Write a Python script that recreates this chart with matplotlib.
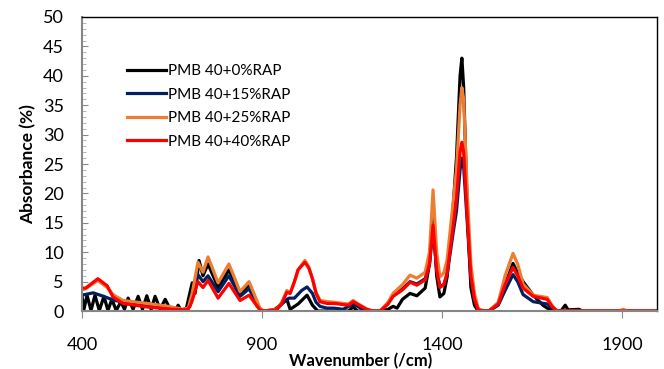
import matplotlib
matplotlib.use('Agg')
import matplotlib.pyplot as plt
from matplotlib.ticker import MultipleLocator

etiquetas = ['PMB 40+0%RAP', 'PMB 40+15%RAP', 'PMB 40+25%RAP', 'PMB 40+40%RAP']
colores = ['#000000', '#002060', '#ED7D31', '#FF0000']
ticks_x = [400, 900, 1400, 1900]

wn_0 = [400, 405, 414, 425, 436, 448, 461, 472, 483, 495, 508, 518, 528, 542, 556, 568,
        580, 592, 603, 617, 631, 645, 660, 667, 675, 690, 706, 714, 725, 736, 750, 778,
        808, 839, 864, 885, 900, 930, 950, 969, 978, 1000, 1025, 1040, 1055, 1140, 1153,
        1165, 1228, 1250, 1264, 1275, 1290, 1311, 1330, 1353, 1365, 1375, 1385, 1394,
        1405, 1414, 1430, 1440, 1450, 1455, 1460, 1470, 1480, 1490, 1500, 1530, 1556,
        1575, 1597, 1610, 1625, 1653, 1680, 1692, 1710, 1730, 1742, 1750, 1780, 1790,
        1800, 1997]
abs_0 = [2.5, 0.2, 2.7, 0.1, 2.7, 0.1, 2.5, 0.1, 2.0, 0.1, 1.6, 0.3, 2.2, 0.3, 2.5, 0.3,
         2.6, 0.3, 2.5, 0.3, 2.0, 0.3, 0.2, 1.0, 0.1, 0.5, 4.8, 3.0, 8.6, 6.0, 8.0, 4.0,
         7.0, 3.0, 4.5, 1.0, 0.0, 0.0, 1.0, 2.0, 0.3, 1.2, 2.7, 1.0, 0.0, 0.0, 0.7,
         0.0, 0.0, 0.3, 0.8, 0.5, 2.0, 3.0, 2.6, 3.9, 8.0, 16.8, 6.0, 2.4,
         3.0, 5.8, 17.0, 26.0, 40.0, 43.0, 38.0, 17.0, 4.0, 1.0, 0.0, 0.0, 1.2,
         4.5, 8.1, 6.5, 5.0, 2.7, 1.0, 0.5, 0.0, 0.0, 1.0, 0.2, 0.3, 0.0,
         0.0, 0.0]

wn_15 = [400, 431, 460, 486, 533, 580, 625, 680, 695, 706, 722, 736, 750, 778, 808, 839,
         864, 894, 905, 940, 960, 975, 990, 1010, 1025, 1040, 1050, 1061, 1080, 1100,
         1125, 1153, 1180, 1208, 1228, 1250, 1264, 1290, 1311, 1330, 1353, 1365, 1375,
         1385, 1394, 1405, 1414, 1430, 1440, 1450, 1455, 1460, 1470, 1480, 1490, 1500,
         1530, 1556, 1575, 1597, 1610, 1625, 1653, 1692, 1705, 1719, 1997]
abs_15 = [2.7, 3.1, 2.5, 1.9, 1.2, 0.9, 0.6, 0.2, 0.4, 2.0, 6.2, 5.0, 6.0, 3.3, 6.0, 2.5,
          3.8, 0.3, 0.0, 0.3, 1.5, 2.2, 2.2, 3.5, 4.1, 3.0, 1.5, 0.8, 0.5, 0.5,
          0.3, 1.2, 0.3, 0.0, 0.0, 1.3, 2.7, 3.8, 5.0, 4.6, 5.5, 8.0, 14.0,
          7.0, 4.2, 4.5, 6.2, 13.0, 17.0, 24.0, 26.0, 24.5, 15.0, 5.5, 1.8, 0.2,
          0.0, 1.0, 3.5, 6.2, 5.0, 2.8, 1.6, 1.2, 0.5, 0.0, 0.0]

wn_25 = [400, 410, 444, 470, 486, 514, 580, 640, 680, 695, 706, 722, 736, 750, 778, 808,
         839, 864, 894, 905, 940, 955, 969, 978, 990, 1000, 1019, 1030, 1040, 1050,
         1061, 1080, 1100, 1125, 1140, 1153, 1170, 1190, 1208, 1228, 1250, 1264, 1290,
         1311, 1330, 1353, 1365, 1375, 1385, 1394, 1405, 1414, 1430, 1440, 1450, 1455,
         1460, 1470, 1480, 1490, 1500, 1510, 1530, 1556, 1575, 1597, 1610, 1625, 1653,
         1692, 1705, 1719, 1890, 1903, 1915, 1997]
abs_25 = [3.6, 3.8, 5.2, 4.0, 2.8, 1.8, 1.3, 0.8, 0.3, 0.5, 3.0, 8.3, 6.6, 9.2, 4.8, 8.0,
          3.3, 5.0, 0.5, 0.0, 0.3, 1.5, 3.5, 3.0, 5.0, 7.0, 8.6, 7.5, 5.5, 3.2,
          1.8, 1.6, 1.5, 1.3, 1.2, 1.8, 1.1, 0.4, 0.0, 0.0, 1.5, 3.0, 4.5,
          6.1, 5.6, 6.6, 10.0, 20.6, 10.0, 5.8, 6.5, 8.7, 18.0, 24.0, 35.0, 38.0,
          36.0, 20.0, 8.0, 3.0, 0.5, 0.0, 0.0, 1.5, 6.0, 9.8, 8.0, 4.6, 2.7,
          2.3, 1.0, 0.0, 0.0, 0.3, 0.0, 0.0]

wn_40 = [400, 410, 444, 470, 486, 514, 580, 653, 692, 700, 706, 722, 736, 750, 778, 808,
         839, 864, 894, 905, 940, 955, 969, 978, 990, 1000, 1019, 1030, 1040, 1050,
         1061, 1080, 1100, 1125, 1140, 1153, 1170, 1190, 1208, 1228, 1250, 1264, 1290,
         1311, 1330, 1353, 1365, 1375, 1385, 1394, 1405, 1414, 1430, 1440, 1450, 1455,
         1460, 1470, 1480, 1490, 1500, 1510, 1530, 1556, 1575, 1597, 1610, 1625, 1653,
         1692, 1705, 1719, 1997]
abs_40 = [3.9, 3.9, 5.5, 4.3, 2.4, 1.3, 0.7, 0.3, 0.2, 0.8, 1.8, 5.0, 4.0, 5.2, 2.2, 4.7,
          1.8, 2.7, 0.2, 0.0, 0.2, 1.3, 3.2, 3.0, 5.0, 7.0, 8.3, 7.3, 5.5, 3.0,
          1.6, 1.3, 1.3, 1.1, 1.0, 1.6, 1.0, 0.3, 0.0, 0.0, 1.2, 2.5, 3.6,
          4.9, 4.4, 5.3, 8.0, 14.6, 7.0, 4.0, 4.5, 6.5, 14.0, 19.0, 27.0, 28.7,
          27.0, 16.0, 6.0, 2.0, 0.3, 0.0, 0.0, 1.2, 4.5, 7.4, 6.0, 3.9, 2.5,
          2.0, 0.8, 0.0, 0.0]

series = [(wn_0, abs_0), (wn_15, abs_15), (wn_25, abs_25), (wn_40, abs_40)]

plt.rcParams['font.family'] = ['Lato', 'DejaVu Sans']

fig = plt.figure(figsize=(6.64, 3.69), dpi=100)
ax = fig.add_axes([0.1235, 0.157, 0.866, 0.797])

for (x, y), lab, col in zip(series, etiquetas, colores):
    ax.plot(x, y, color=col, lw=2.3, label=lab, solid_joinstyle='round')

ax.set_xlim(400, 1997)
ax.set_ylim(0, 50)
ax.set_xticks(ticks_x)
ax.yaxis.set_major_locator(MultipleLocator(5))
ax.yaxis.set_minor_locator(MultipleLocator(1))

ax.tick_params(axis='y', which='major', direction='in', length=4, color='#888888',
               labelsize=13, pad=13)
ax.tick_params(axis='y', which='minor', direction='in', length=3, color='#aaaaaa')
ax.tick_params(axis='x', which='major', direction='out', length=5, color='#888888',
               labelsize=13, pad=14)

for lado in ['left', 'bottom']:
    ax.spines[lado].set_color('#868686')
    ax.spines[lado].set_linewidth(1.5)
for lado in ['top', 'right']:
    ax.spines[lado].set_color('#000000')
    ax.spines[lado].set_linewidth(1.0)

ax.set_xlabel('Wavenumber (/cm)', fontsize=12, fontweight='bold')
ax.xaxis.set_label_coords(0.485, -0.143)
ax.set_ylabel('Absorbance (%)', fontsize=12.5, fontweight='bold')
ax.yaxis.set_label_coords(-0.08, 0.5)

ax.legend(loc='upper left', bbox_to_anchor=(0.055, 0.886), frameon=False, fontsize=11,
          handlelength=2.5, handletextpad=0.15, labelspacing=0.62)

fig.savefig('out.png', dpi=100)
